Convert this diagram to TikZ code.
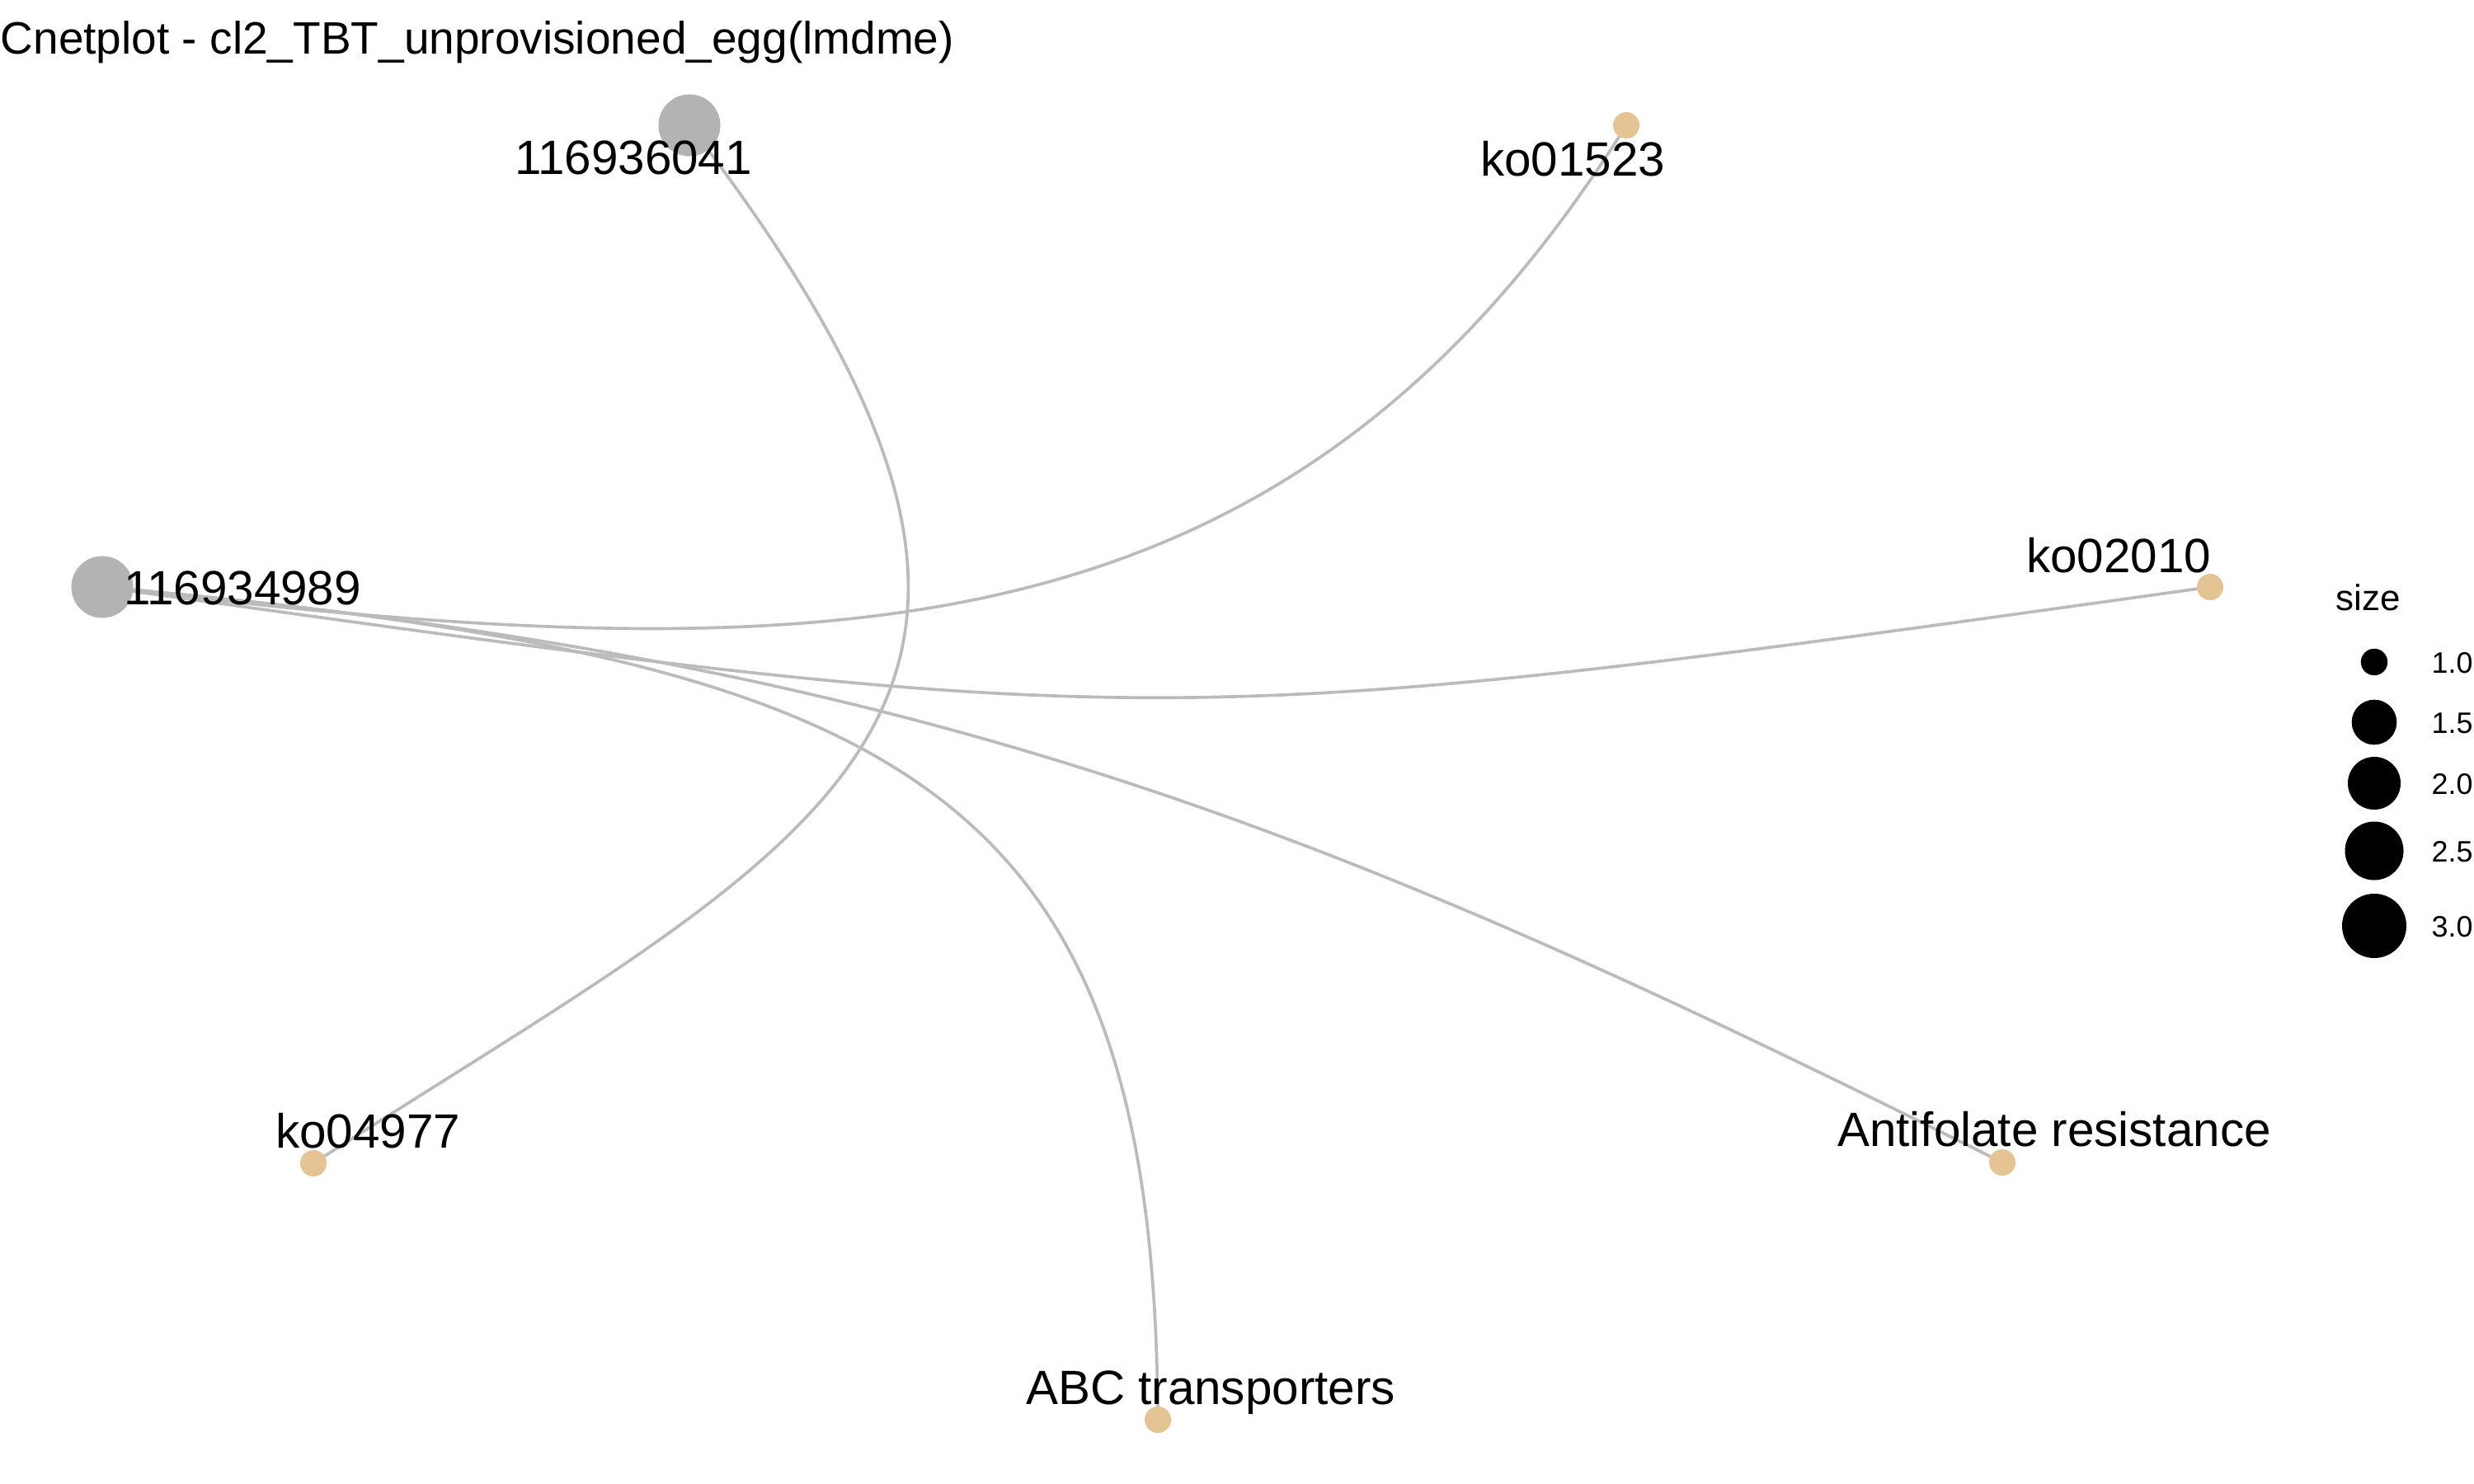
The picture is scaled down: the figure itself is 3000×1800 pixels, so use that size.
\documentclass[tikz,border=0pt]{standalone}
\usepackage{fontspec}
\setmainfont{Liberation Sans}
\usetikzlibrary{backgrounds}
\definecolor{genegray}{HTML}{B3B3B3}
\definecolor{cattan}{HTML}{E5C494}
\definecolor{edgegray}{HTML}{BBBBBB}
\begin{document}
\begin{tikzpicture}[x=0.01cm, y=-0.01cm,
  gene/.style={circle, fill=genegray, inner sep=0pt, minimum size=0.75cm},
  cat/.style={circle, fill=cattan, inner sep=0pt, minimum size=0.32cm},
  lab/.style={anchor=base, inner sep=0pt, font=\fontsize{16.6}{20}\selectfont},
  edge/.style={draw=edgegray, line width=1.05pt},
  legdot/.style={circle, fill=black, inner sep=0pt, minimum size=#1},
  legnum/.style={anchor=base west, inner sep=0pt, font=\fontsize{10.2}{12}\selectfont}]
\useasboundingbox (0,0) rectangle (3000,1800);
% nodes
\node[gene] (g1) at (124,712) {};
\node[gene] (g2) at (836,152) {};
\node[cat] (k1) at (1972,152) {};
\node[cat] (k2) at (2680,712) {};
\node[cat] (k3) at (380,1411) {};
\node[cat] (k4) at (2428,1410) {};
\node[cat] (k5) at (1404,1722) {};
% edges
\begin{scope}[on background layer]
\fill[white] (0,0) rectangle (3000,1800);
\draw[edge] (g1.center) .. controls (1000,818) and (1560,810) .. (k1.center);
\draw[edge] (g1.center) .. controls (1402,891) and (1402,891) .. (k2.center);
\draw[edge] (g1.center) .. controls (1122,800) and (1623,1008) .. (k4.center);
\draw[edge] (g1.center) .. controls (1100,800) and (1400,950) .. (k5.center);
\draw[edge] (g2.center) .. controls (1384,866) and (1010,1006) .. (k3.center);
\end{scope}
% labels
\node[lab] (lg1) at (294,733) {116934989};
\node[lab] (lg2) at (768,212) {116936041};
\node[lab] (lk1) at (1907,213) {ko01523};
\node[lab] (lk2) at (2569,694) {ko02010};
\node[lab] (lk3) at (446,1392) {ko04977};
\node[lab] (lk4) at (2491,1390) {Antifolate resistance};
\node[lab] (lk5) at (1468,1703) {ABC transporters};
% title
\node[anchor=base west, inner sep=0pt, font=\fontsize{15.65}{19}\selectfont] (title) at (0,66) {Cnetplot - cl2\_TBT\_unprovisioned\_egg(lmdme)};
% legend
\node[anchor=base, inner sep=0pt, font=\fontsize{12.5}{15}\selectfont] (legtitle) at (2872,740) {size};
\node[legdot=0.324cm] (d1) at (2879,803) {};
\node[legdot=0.546cm] (d2) at (2879,876) {};
\node[legdot=0.64cm] (d3) at (2879,950) {};
\node[legdot=0.71cm] (d4) at (2879,1032) {};
\node[legdot=0.78cm] (d5) at (2879,1123) {};
\node[legnum] (n1) at (2948,816) {1.0};
\node[legnum] (n2) at (2948,889) {1.5};
\node[legnum] (n3) at (2948,963) {2.0};
\node[legnum] (n4) at (2948,1045) {2.5};
\node[legnum] (n5) at (2948,1136) {3.0};
\end{tikzpicture}
\end{document}
